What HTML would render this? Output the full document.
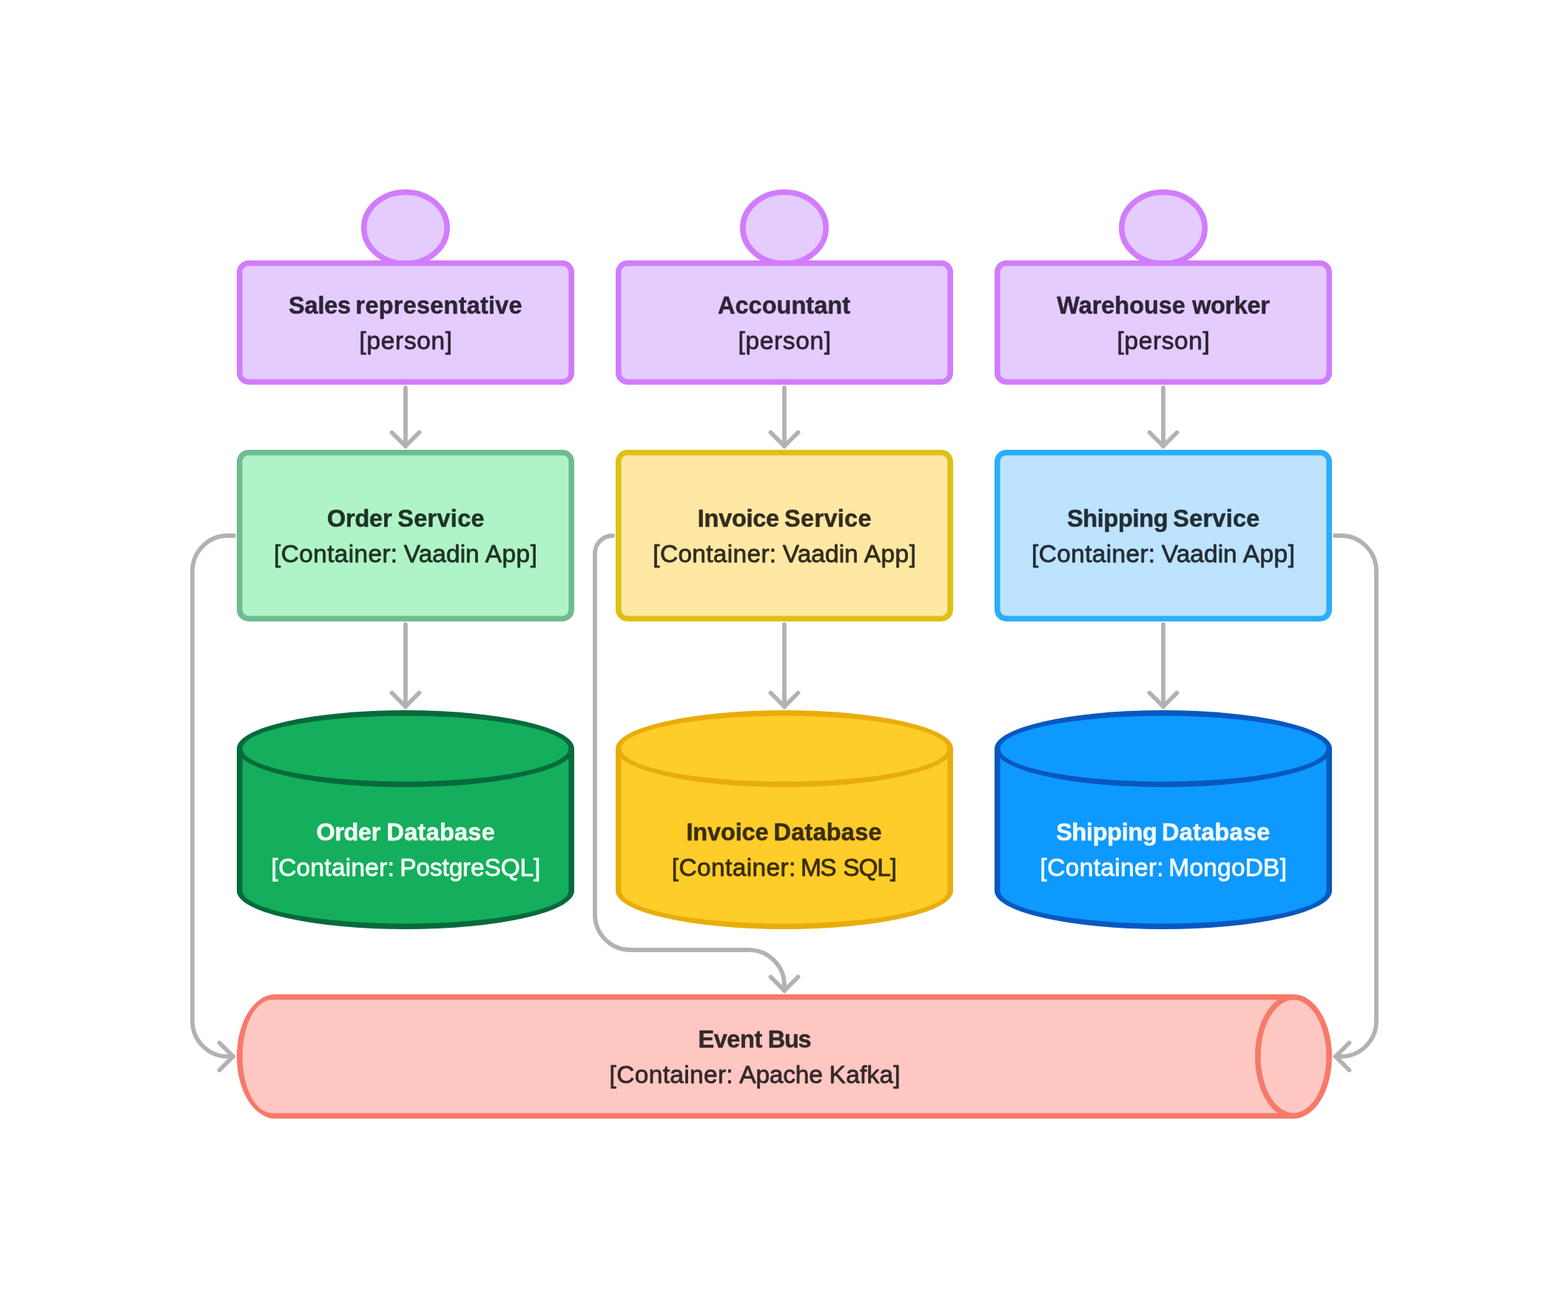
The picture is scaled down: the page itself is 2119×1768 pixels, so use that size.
<!DOCTYPE html>
<html lang="en">
<head>
<meta charset="utf-8">
<title>Container diagram</title>
<style>
html,body{margin:0;padding:0;background:#ffffff;}
body{width:2119px;height:1768px;overflow:hidden;}
svg{display:block;will-change:transform;}
text{font-family:"Liberation Sans",sans-serif;text-anchor:start;white-space:pre;stroke-linejoin:round;}
text.b{font-weight:700;font-size:32.5px;stroke-width:0.5;}
text.r{font-weight:400;font-size:33.5px;stroke-width:0.8;}
.c{fill:none;stroke:#B2B2B2;stroke-width:5.8;stroke-linecap:round;stroke-linejoin:round;}
.c .h{stroke-linejoin:miter;stroke-miterlimit:4;}
.s{stroke-width:7.6;stroke-linejoin:round;}
</style>
</head>
<body>
<svg width="2119" height="1768" viewBox="0 0 2119 1768">
<rect width="2119" height="1768" fill="#ffffff"/>

<g id="connectors" class="c">
<path d="M548,524 V603"/><path class="h" d="M529.5,584.5 L548,603 L566.5,584.5"/>
<path d="M548,844 V955"/><path class="h" d="M529.5,936.5 L548,955 L566.5,936.5"/>
<path d="M1060,524 V603"/><path class="h" d="M1041.5,584.5 L1060,603 L1078.5,584.5"/>
<path d="M1060,844 V955"/><path class="h" d="M1041.5,936.5 L1060,955 L1078.5,936.5"/>
<path d="M1572,524 V603"/><path class="h" d="M1553.5,584.5 L1572,603 L1590.5,584.5"/>
<path d="M1572,844 V955"/><path class="h" d="M1553.5,936.5 L1572,955 L1590.5,936.5"/>
<path d="M316,724 H308 A48,48 0 0 0 260,772 V1380 A48,48 0 0 0 308,1428 H315"/>
<path class="h" d="M296.5,1409.5 L315,1428 L296.5,1446.5"/>
<path d="M1804,724 H1812 A48,48 0 0 1 1860,772 V1380 A48,48 0 0 1 1812,1428 H1805"/>
<path class="h" d="M1823.5,1409.5 L1805,1428 L1823.5,1446.5"/>
<path d="M828,724 A24,24 0 0 0 804,748 V1236 A48,48 0 0 0 852,1284 H1012 A48,48 0 0 1 1060,1332 V1339"/>
<path class="h" d="M1041.5,1320.5 L1060,1339 L1078.5,1320.5"/>
</g>
<g id="person-1">
<g class="s" fill="#E4CCFF" stroke="#D17CFC">
<ellipse cx="548" cy="308" rx="56.2" ry="48.2"/>
<rect x="323.8" y="355.8" width="448.4" height="160.4" rx="12" ry="12"/>
</g>
<text id="p0a" class="b" y="423.6" fill="#2D2436" stroke="#2D2436"><tspan x="390.1" letter-spacing="-0.23">Sales </tspan><tspan x="480.5" letter-spacing="0.23">representative</tspan></text>
<text id="p0b" class="r" y="471.6" fill="#2D2436" stroke="#2D2436"><tspan x="485.6" letter-spacing="0.64">[person]</tspan></text>
</g>
<g id="person-2">
<g class="s" fill="#E4CCFF" stroke="#D17CFC">
<ellipse cx="1060" cy="308" rx="56.2" ry="48.2"/>
<rect x="835.8" y="355.8" width="448.4" height="160.4" rx="12" ry="12"/>
</g>
<text id="p1a" class="b" y="423.6" fill="#2D2436" stroke="#2D2436"><tspan x="969.9" letter-spacing="0.04">Accountant</tspan></text>
<text id="p1b" class="r" y="471.6" fill="#2D2436" stroke="#2D2436"><tspan x="997.6" letter-spacing="0.63">[person]</tspan></text>
</g>
<g id="person-3">
<g class="s" fill="#E4CCFF" stroke="#D17CFC">
<ellipse cx="1572" cy="308" rx="56.2" ry="48.2"/>
<rect x="1347.8" y="355.8" width="448.4" height="160.4" rx="12" ry="12"/>
</g>
<text id="p2a" class="b" y="423.6" fill="#2D2436" stroke="#2D2436"><tspan x="1428.2" letter-spacing="-0.03">Warehouse </tspan><tspan x="1611.2" letter-spacing="-0.38">worker</tspan></text>
<text id="p2b" class="r" y="471.6" fill="#2D2436" stroke="#2D2436"><tspan x="1509.5" letter-spacing="0.61">[person]</tspan></text>
</g>
<g id="service-1">
<rect class="s" fill="#AFF4C6" stroke="#6FBB91" x="323.8" y="611.8" width="448.4" height="224.4" rx="12" ry="12"/>
<text id="s0a" class="b" y="711.6" fill="#1F3226" stroke="#1F3226"><tspan x="442.1" letter-spacing="-0.25">Order </tspan><tspan x="537.3" letter-spacing="0.27">Service</tspan></text>
<text id="s0b" class="r" y="759.6" fill="#1F3226" stroke="#1F3226"><tspan x="370.1" letter-spacing="0.32">[Container: </tspan><tspan x="545.8" letter-spacing="0.02">Vaadin </tspan><tspan x="655.7" letter-spacing="0.47">App]</tspan></text>
</g>
<g id="service-2">
<rect class="s" fill="#FFE8A3" stroke="#DDC114" x="835.8" y="611.8" width="448.4" height="224.4" rx="12" ry="12"/>
<text id="s1a" class="b" y="711.6" fill="#332C1E" stroke="#332C1E"><tspan x="942.8" letter-spacing="-0.27">Invoice </tspan><tspan x="1060.1" letter-spacing="0.3">Service</tspan></text>
<text id="s1b" class="r" y="759.6" fill="#332C1E" stroke="#332C1E"><tspan x="882.3" letter-spacing="0.3">[Container: </tspan><tspan x="1057.8" letter-spacing="0.02">Vaadin </tspan><tspan x="1167.7" letter-spacing="0.47">App]</tspan></text>
</g>
<g id="service-3">
<rect class="s" fill="#BDE3FF" stroke="#2BAEFA" x="1347.8" y="611.8" width="448.4" height="224.4" rx="12" ry="12"/>
<text id="s2a" class="b" y="711.6" fill="#232D37" stroke="#232D37"><tspan x="1441.9" letter-spacing="-0.33">Shipping </tspan><tspan x="1585.3" letter-spacing="0.22">Service</tspan></text>
<text id="s2b" class="r" y="759.6" fill="#232D37" stroke="#232D37"><tspan x="1394.1" letter-spacing="0.32">[Container: </tspan><tspan x="1569.8" letter-spacing="0.02">Vaadin </tspan><tspan x="1679.7" letter-spacing="0.47">App]</tspan></text>
</g>
<g id="database-1">
<path fill="#066A3C" d="M320,1012 A228,52 0 0 1 776,1012 V1204 A228,52 0 0 1 320,1204 Z"/>
<path fill="#14AE5C" d="M327.6,1025.31 A228,52 0 0 0 768.4,1025.31 V1204 A220.4,44.4 0 0 1 327.6,1204 Z"/>
<ellipse fill="#14AE5C" cx="548" cy="1012" rx="220.4" ry="44.4"/>
<text id="d0a" class="b" y="1135.6" fill="#F3FFF6" stroke="#F3FFF6"><tspan x="427.6" letter-spacing="-0.45">Order </tspan><tspan x="522.6" letter-spacing="0.23">Database</tspan></text>
<text id="d0b" class="r" y="1183.6" fill="#F3FFF6" stroke="#F3FFF6"><tspan x="366.6" letter-spacing="0.25">[Container: </tspan><tspan x="540.3" letter-spacing="-0.17">PostgreSQL]</tspan></text>
</g>
<g id="database-2">
<path fill="#E8AD0C" d="M832,1012 A228,52 0 0 1 1288,1012 V1204 A228,52 0 0 1 832,1204 Z"/>
<path fill="#FFCD29" d="M839.6,1025.31 A228,52 0 0 0 1280.4,1025.31 V1204 A220.4,44.4 0 0 1 839.6,1204 Z"/>
<ellipse fill="#FFCD29" cx="1060" cy="1012" rx="220.4" ry="44.4"/>
<text id="d1a" class="b" y="1135.6" fill="#3A2D05" stroke="#3A2D05"><tspan x="927.5" letter-spacing="-0.17">Invoice </tspan><tspan x="1045.5" letter-spacing="0.21">Database</tspan></text>
<text id="d1b" class="r" y="1183.6" fill="#3A2D05" stroke="#3A2D05"><tspan x="907.8" letter-spacing="0.36">[Container: </tspan><tspan x="1082.1" letter-spacing="-1.8">MS </tspan><tspan x="1139.3" letter-spacing="-1.17">SQL]</tspan></text>
</g>
<g id="database-3">
<path fill="#0758BF" d="M1344,1012 A228,52 0 0 1 1800,1012 V1204 A228,52 0 0 1 1344,1204 Z"/>
<path fill="#0D99FF" d="M1351.6,1025.31 A228,52 0 0 0 1792.4,1025.31 V1204 A220.4,44.4 0 0 1 1351.6,1204 Z"/>
<ellipse fill="#0D99FF" cx="1572" cy="1012" rx="220.4" ry="44.4"/>
<text id="d2a" class="b" y="1135.6" fill="#F5FBFF" stroke="#F5FBFF"><tspan x="1427.2" letter-spacing="-0.33">Shipping </tspan><tspan x="1570" letter-spacing="0.26">Database</tspan></text>
<text id="d2b" class="r" y="1183.6" fill="#F5FBFF" stroke="#F5FBFF"><tspan x="1405.6" letter-spacing="0.32">[Container: </tspan><tspan x="1579.3" letter-spacing="0.2">MongoDB]</tspan></text>
</g>
<g id="event-bus">
<path fill="#F7796A" d="M372,1344 H1748 A52,84 0 0 1 1748,1512 H372 A52,84 0 0 1 372,1344 Z"/>
<path fill="#FFC7C2" d="M367.1,1351.6 H1726.39 A52,84 0 0 0 1726.39,1504.4 H367.1 A39.5,76.4 0 0 1 367.1,1351.6 Z"/>
<ellipse fill="#FFC7C2" cx="1748" cy="1428" rx="44.4" ry="76.4"/>
<text id="ba" class="b" y="1415.6" fill="#33282A" stroke="#33282A"><tspan x="943.5" letter-spacing="-0.45">Event </tspan><tspan x="1037.8" letter-spacing="-1.35">Bus</tspan></text>
<text id="bb" class="r" y="1463.6" fill="#33282A" stroke="#33282A"><tspan x="823.6" letter-spacing="0.32">[Container: </tspan><tspan x="999.3" letter-spacing="-0.2">Apache </tspan><tspan x="1120.6" letter-spacing="0.2">Kafka]</tspan></text>
</g>
</svg>
</body>
</html>
